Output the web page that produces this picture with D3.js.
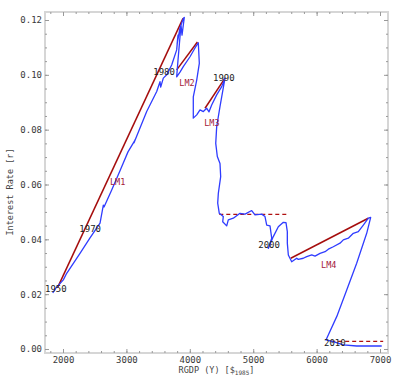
<!DOCTYPE html>
<html>
<head>
<meta charset="utf-8">
<script src="https://d3js.org/d3.v7.min.js"></script>
<style>
body { margin: 0; background: #fff; }
text { font-family: 'DejaVu Sans Mono', monospace; }
.tick text { fill: #3a3a3a; font-size: 9px; }
.tick line { stroke: #999; }
.domain { display: none; }
</style>
</head>
<body>
<div id="plot"></div>
<script>

var width = 400;
var height = 385;

// IS-LM path: real GDP (1985 dollars) vs interest rate
var rgdp = [1838, 1890, 2005, 2058, 2268, 2426, 2584, 2636, 2647, 2768, 2904, 3025, 3136, 3120, 3320, 3478, 3530, 3541, 3582, 3636,
  3714, 3793, 3814, 3798, 3845, 3898, 3913, 3877, 3861, 3814, 3793, 3845, 3897, 4003, 4082, 4134, 4150, 4109, 4055, 4055,
  4109, 4161, 4213, 4267, 4303, 4345, 4424, 4503, 4555, 4476, 4424, 4409, 4434, 4476, 4487, 4450, 4440, 4465, 4528, 4519,
  4582, 4607, 4686, 4792, 4871, 4976, 5028, 5134, 5186, 5213, 5265, 5292, 5238, 5317, 5396, 5475, 5517, 5538, 5538, 5554,
  5607, 5686, 5711, 5790, 5844, 5923, 5975, 6054, 6133, 6185, 6263, 6369, 6421, 6500, 6579, 6658, 6737, 6816, 6853,
  6790, 6632, 6475, 6317, 6148, 6264, 6421, 6632, 7027];
var rate = [0.0205, 0.0223, 0.0252, 0.0276, 0.0349, 0.0405, 0.0459, 0.0525, 0.0518, 0.0580, 0.0653, 0.0719, 0.0762, 0.0752, 0.0866, 0.0939, 0.0975, 0.0955, 0.0988, 0.1000,
  0.1036, 0.1091, 0.1145, 0.1109, 0.1171, 0.1206, 0.1209, 0.1145, 0.1182, 0.1054, 0.0993, 0.1010, 0.1030, 0.1066, 0.1098, 0.1117, 0.1042, 0.0981, 0.0920, 0.0842,
  0.0854, 0.0872, 0.0866, 0.0878, 0.0865, 0.0890, 0.0927, 0.0957, 0.0988, 0.0884, 0.0811, 0.0750, 0.0702, 0.0677, 0.0629, 0.0568, 0.0532, 0.0495, 0.0483, 0.0464,
  0.0449, 0.0471, 0.0477, 0.0495, 0.0492, 0.0505, 0.0489, 0.0492, 0.0483, 0.0452, 0.0449, 0.0404, 0.0367, 0.0410, 0.0446, 0.0462, 0.0461, 0.0428, 0.0386, 0.0343,
  0.0318, 0.0331, 0.0327, 0.0331, 0.0337, 0.0343, 0.0339, 0.0349, 0.0355, 0.0364, 0.0373, 0.0386, 0.0398, 0.0404, 0.0422, 0.0428, 0.0452, 0.0477, 0.0480,
  0.0422, 0.0313, 0.0215, 0.0118, 0.0033, 0.0027, 0.0015, 0.0011, 0.0011];

// LM shift segments [x1, y1, x2, y2]
var lmNames = ["LM1", "LM2", "LM3", "LM4"];
var lmSegments = [[1916, 0.0225, 3893, 0.1206], [3793, 0.1018, 4120, 0.1120], [4240, 0.0878, 4555, 0.0988], [5592, 0.0331, 6815, 0.0477]];
var lmLabelPos = [[2741, 0.0600], [3834, 0.0959], [4228, 0.0813], [6070, 0.0294]];

// dashed horizontal levels [x1, x2, y]
var dashedLevels = [[4465, 5528, 0.0491], [6230, 7050, 0.0028]];

var yearLabels = ["1950", "1970", "1980", "1990", "2000", "2010"];
var yearLabelPos = [[1716, 0.0208], [2257, 0.0427], [3424, 0.0998], [4366, 0.0976], [5080, 0.0370], [6117, 0.0011]];

var xTicks = [2000, 3000, 4000, 5000, 6000, 7000];
var yTicks = [0.00, 0.02, 0.04, 0.06, 0.08, 0.10, 0.12];

var padLeft = 45, padRight = 388, padTop = 12, padBottom = 353;

var xScale = d3.scaleLinear().domain([1716, 7126]).range([padLeft, padRight]);
var yScale = d3.scaleLinear().domain([-0.00146, 0.12292]).range([padBottom, padTop]);

var svg = d3.select("#plot").append("svg")
  .attr("width", width).attr("height", height);

// frame
svg.append("rect")
  .attr("x", padLeft).attr("y", padTop)
  .attr("width", padRight - padLeft).attr("height", padBottom - padTop)
  .style("fill", "none").style("stroke", "#d6d6d6").style("stroke-width", 2);

var xMinor = d3.range(1800, 7101, 200);
var yMinor = d3.range(0, 0.1226, 0.005);

// minor ticks on all four sides
svg.append("g").attr("transform", "translate(0," + padBottom + ")")
  .call(d3.axisBottom(xScale).tickValues(xMinor).tickSize(-2).tickFormat(""));
svg.append("g").attr("transform", "translate(0," + padTop + ")")
  .call(d3.axisTop(xScale).tickValues(xMinor).tickSize(-2).tickFormat(""));
svg.append("g").attr("transform", "translate(" + padLeft + ",0)")
  .call(d3.axisLeft(yScale).tickValues(yMinor).tickSize(-2).tickFormat(""));
svg.append("g").attr("transform", "translate(" + padRight + ",0)")
  .call(d3.axisRight(yScale).tickValues(yMinor).tickSize(-2).tickFormat(""));

// major ticks with labels
svg.append("g").attr("transform", "translate(0," + padBottom + ")")
  .call(d3.axisBottom(xScale).tickValues(xTicks).tickSizeInner(-4).tickSizeOuter(0).tickPadding(4).tickFormat(d3.format("d")));
svg.append("g").attr("transform", "translate(" + padLeft + ",0)")
  .call(d3.axisLeft(yScale).tickValues(yTicks).tickSizeInner(-4).tickSizeOuter(0).tickPadding(3).tickFormat(d3.format(".2f")));
svg.append("g").attr("transform", "translate(0," + padTop + ")")
  .call(d3.axisTop(xScale).tickValues(xTicks).tickSize(-4).tickFormat(""));
svg.append("g").attr("transform", "translate(" + padRight + ",0)")
  .call(d3.axisRight(yScale).tickValues(yTicks).tickSize(-4).tickFormat(""));

// axis titles
var xTitle = svg.append("text")
  .attr("x", (padLeft + padRight) / 2).attr("y", 373)
  .attr("text-anchor", "middle")
  .style("font-size", "8.5px").style("fill", "#444");
xTitle.append("tspan").text("RGDP (Y) [$");
xTitle.append("tspan").attr("dy", 2).style("font-size", "6px").text("1985");
xTitle.append("tspan").attr("dy", -2).text("]");

svg.append("text")
  .attr("transform", "translate(13," + 192 + ") rotate(-90)")
  .attr("text-anchor", "middle")
  .style("font-size", "8.5px").style("fill", "#444")
  .text("Interest Rate [r]");

var points = rgdp.map(function (d, i) { return [d, rate[i]]; });

// LM lines
svg.selectAll("line.lm").data(lmSegments).enter()
  .append("line").attr("class", "lm")
  .attr("x1", function (d) { return xScale(d[0]); })
  .attr("y1", function (d) { return yScale(d[1]); })
  .attr("x2", function (d) { return xScale(d[2]); })
  .attr("y2", function (d) { return yScale(d[3]); })
  .style("stroke", "#a50d0d").style("stroke-width", 1.5);

svg.selectAll("line.level").data(dashedLevels).enter()
  .append("line").attr("class", "level")
  .attr("x1", function (d) { return xScale(d[0]); })
  .attr("x2", function (d) { return xScale(d[1]); })
  .attr("y1", function (d) { return yScale(d[2]); })
  .attr("y2", function (d) { return yScale(d[2]); })
  .style("stroke", "#b01010").style("stroke-width", 1.2)
  .style("stroke-dasharray", "4,3");

// the path
var line = d3.line()
  .x(function (d) { return xScale(d[0]); })
  .y(function (d) { return yScale(d[1]); });

svg.append("path").datum(points)
  .attr("d", line)
  .style("fill", "none").style("stroke", "#2f3cff").style("stroke-width", 1.3)
  .style("stroke-linejoin", "round");

// labels
svg.selectAll("text.year").data(yearLabels).enter()
  .append("text").attr("class", "year")
  .attr("x", function (d, i) { return xScale(yearLabelPos[i][0]); })
  .attr("y", function (d, i) { return yScale(yearLabelPos[i][1]); })
  .style("font-size", "9px").style("fill", "#222")
  .text(function (d) { return d; });

svg.selectAll("text.lmlabel").data(lmNames).enter()
  .append("text").attr("class", "lmlabel")
  .attr("x", function (d, i) { return xScale(lmLabelPos[i][0]); })
  .attr("y", function (d, i) { return yScale(lmLabelPos[i][1]); })
  .style("font-size", "8.5px").style("fill", "#a3203a")
  .text(function (d) { return d; });

</script>
</body>
</html>
